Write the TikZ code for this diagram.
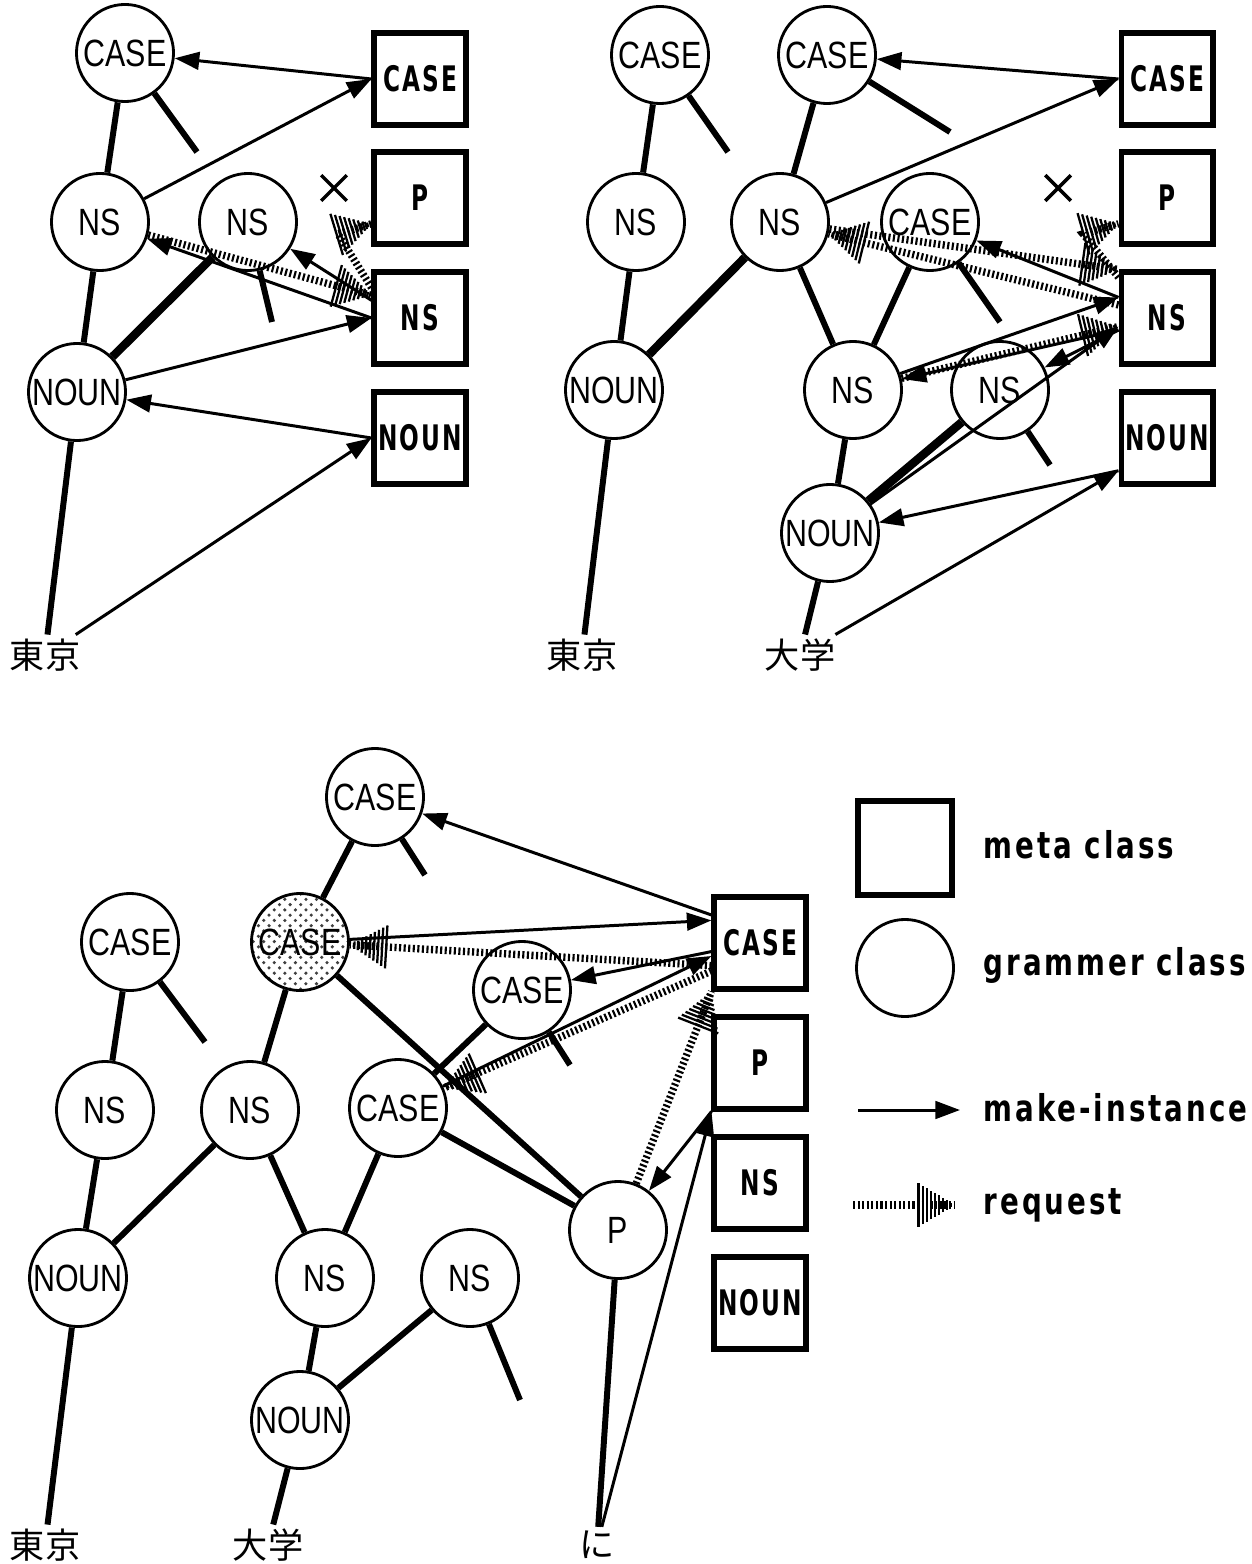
\documentclass[tikz,border=0pt]{standalone}
\usepackage{fontspec}
\newfontfamily\circfont[FakeStretch=0.8]{Liberation Sans}
\newfontfamily\boxfont[FakeStretch=0.66,LetterSpace=6,UprightFont={* Bold}]{DejaVu Sans}
\newfontfamily\lgfont[FakeStretch=0.75,LetterSpace=8,UprightFont={* Bold}]{DejaVu Sans}
\newfontfamily\jpfont{Noto Sans CJK JP}
\usetikzlibrary{arrows.meta, decorations.markings, patterns, shapes.misc}

% hatched head of a request
\newcommand\reqhead{%
  \foreach \d in {1,...,9}
    \draw[solid, line width=0.65pt] ({-\d*1.15pt},{-\d*0.68pt}) -- ({-\d*1.15pt},{\d*0.68pt});}

\tikzset{
  gcls/.style={circle, draw, line width=0.8pt, minimum size=0.97cm, inner sep=0pt,
    font=\circfont\fontsize{10.8}{11}\selectfont},
  mcls/.style={rectangle, draw, line width=1.7pt, minimum size=0.91cm, inner sep=0pt,
    font=\boxfont\fontsize{10}{10}\selectfont},
  link/.style={line width=1.7pt},
  heavy/.style={line width=2.4pt},
  mk/.style={line width=0.85pt, ->},
  request/.style={line width=2.1pt, dash pattern=on 0.6pt off 0.7pt,
    postaction={decorate, decoration={markings, mark=at position 1 with {\reqhead}}}},
  word/.style={font=\jpfont\fontsize{10}{10}\selectfont, inner sep=1pt},
  nope/.style={cross out, draw, line width=1pt, minimum size=0.22cm, inner sep=0pt},
  lgtext/.style={anchor=west, inner sep=0pt, font=\lgfont\fontsize{10.5}{11}\selectfont},
}

\begin{document}
\begin{tikzpicture}[x=0.01cm, y=-0.01cm, >={Triangle[length=7pt,width=5pt]}]
    \useasboundingbox (0,0) rectangle (1252,1564);

    % ---------- panel 1 : 東京
    \node[gcls] (c1CASE) at (125,53) {CASE};
    \node[gcls] (c1NSa) at (100,222) {NS};
    \node[gcls] (c1NSb) at (248,222) {NS};
    \node[gcls] (c1NOUN) at (77,392) {NOUN};
    \node[word] (w1tokyo) at (45,655) {東京};
    \coordinate (t1CASE) at (197,152);
    \coordinate (t1NS) at (272,322);

    \node[mcls] (b1CASE) at (420,79) {CASE};
    \node[mcls] (b1P) at (420,198) {P};
    \node[mcls] (b1NS) at (420,318) {NS};
    \node[mcls] (b1NOUN) at (420,438) {NOUN};

    \draw[link] (c1CASE) -- (c1NSa);
    \draw[link] (c1NSa) -- (c1NOUN);
    \draw[link] (c1NOUN) -- (w1tokyo);
    \draw[link] (c1CASE) -- (t1CASE);
    \draw[link] (c1NSb) -- (t1NS);
    \draw[heavy] (c1NOUN) -- (c1NSb);

    \draw[mk] (b1CASE.west) -- (c1CASE);
    \draw[mk] (c1NSa) -- (b1CASE.west);
    \draw[mk] (b1NS.west) -- (c1NSa);
    \draw[mk] (b1NS.160) -- (c1NSb);
    \draw[mk] (c1NOUN) -- (b1NS.west);
    \draw[mk] (b1NOUN.west) -- (c1NOUN);
    \draw[mk] (w1tokyo) -- (b1NOUN.west);

    % request refused by P
    \node[nope] (x1) at (334,188) {};
    \coordinate (r1bend) at (338,234);
    \draw[request] (c1NSa) -- (b1NS.155);
    \draw[request] (b1NS.148) -- (r1bend) -- (b1P.208);

    % ---------- panel 2 : 東京 大学
    \node[gcls] (c2CASEa) at (660,55) {CASE};
    \node[gcls] (c2NSa) at (636,222) {NS};
    \node[gcls] (c2NOUNa) at (614,390) {NOUN};
    \node[gcls] (c2CASEb) at (827,55) {CASE};
    \node[gcls] (c2NSb) at (780,222) {NS};
    \node[gcls] (c2CASEc) at (930,222) {CASE};
    \node[gcls] (c2NSc) at (853,390) {NS};
    \node[gcls] (c2NSd) at (1000,390) {NS};
    \node[gcls] (c2NOUNb) at (830,533) {NOUN};
    \node[word] (w2tokyo) at (582,655) {東京};
    \node[word] (w2daigaku) at (800,655) {大学};
    \coordinate (t2CASEa) at (728,152);
    \coordinate (t2CASEb) at (950,132);
    \coordinate (t2CASEc) at (1000,322);
    \coordinate (t2NSd) at (1050,465);

    \node[mcls] (b2CASE) at (1167,79) {CASE};
    \node[mcls] (b2P) at (1167,198) {P};
    \node[mcls] (b2NS) at (1167,318) {NS};
    \node[mcls] (b2NOUN) at (1167,438) {NOUN};

    \draw[link] (c2CASEa) -- (c2NSa);
    \draw[link] (c2NSa) -- (c2NOUNa);
    \draw[link] (c2NOUNa) -- (w2tokyo);
    \draw[link] (c2CASEa) -- (t2CASEa);
    \draw[link] (c2CASEb) -- (c2NSb);
    \draw[link] (c2CASEb) -- (t2CASEb);
    \draw[heavy] (c2NSb) -- (c2NOUNa);
    \draw[link] (c2NSb) -- (c2NSc);
    \draw[link] (c2CASEc) -- (c2NSc);
    \draw[link] (c2CASEc) -- (t2CASEc);
    \draw[link] (c2NSc) -- (c2NOUNb);
    \draw[heavy] (c2NSd) -- (c2NOUNb);
    \draw[link] (c2NSd) -- (t2NSd);
    \draw[link] (c2NOUNb) -- (w2daigaku);

    \draw[mk] (c2NSb) -- (b2CASE.west);
    \draw[mk] (b2CASE.west) -- (c2CASEb);
    \draw[mk] (b2NS.157) -- (c2CASEc);
    \draw[mk] (c2NSc) -- (b2NS.157);
    \draw[mk] (b2NS.194) -- (c2NSc);
    \draw[mk] (b2NS.194) -- (c2NSd);
    \draw[mk] (c2NOUNb) -- (b2NS.190);
    \draw[mk] (b2NOUN.214) -- (c2NOUNb);
    \draw[mk] (w2daigaku) -- (b2NOUN.214);

    \node[nope] (x2) at (1058,188) {};
    \coordinate (r2bend) at (1083,234);
    \draw[request] (c2NSb) -- (b2NS.north west);
    \draw[request] (b2NS.165) -- (c2NSb);
    \draw[request] (c2NSc) -- (b2NS.190);
    \draw[request] (b2NS.140) -- (r2bend) -- (b2P.208);

    % ---------- panel 3 : 東京 大学 に
    \node[gcls] (c3CASEt) at (375,797) {CASE};
    \node[gcls] (c3CASEl) at (130,942) {CASE};
    \node[gcls, pattern=crosshatch dots, pattern color=black!75] (c3CASEs) at (300,942) {CASE};
    \node[gcls] (c3CASEm) at (522,990) {CASE};
    \node[gcls] (c3CASEd) at (398,1108) {CASE};
    \node[gcls] (c3NSl) at (105,1110) {NS};
    \node[gcls] (c3NSc) at (250,1110) {NS};
    \node[gcls] (c3NOUNl) at (78,1278) {NOUN};
    \node[gcls] (c3NSm) at (325,1278) {NS};
    \node[gcls] (c3NSr) at (470,1278) {NS};
    \node[gcls] (c3NOUNm) at (300,1420) {NOUN};
    \node[gcls] (c3P) at (618,1230) {P};
    \node[word] (w3tokyo) at (45,1545) {東京};
    \node[word] (w3daigaku) at (268,1545) {大学};
    \node[word] (w3ni) at (597,1545) {に};
    \coordinate (t3CASEl) at (205,1042);
    \coordinate (t3CASEt) at (425,875);
    \coordinate (t3CASEm) at (570,1065);
    \coordinate (t3NSr) at (520,1400);

    \node[mcls] (b3CASE) at (760,943) {CASE};
    \node[mcls] (b3P) at (760,1063) {P};
    \node[mcls] (b3NS) at (760,1183) {NS};
    \node[mcls] (b3NOUN) at (760,1303) {NOUN};

    \draw[link] (c3CASEl) -- (c3NSl);
    \draw[link] (c3CASEl) -- (t3CASEl);
    \draw[link] (c3NSl) -- (c3NOUNl);
    \draw[link] (c3NOUNl) -- (w3tokyo);
    \draw[link] (c3CASEt) -- (c3CASEs);
    \draw[link] (c3CASEt) -- (t3CASEt);
    \draw[link] (c3CASEs) -- (c3NSc);
    \draw[link] (c3CASEs) -- (c3P);
    \draw[link] (c3CASEm) -- (c3CASEd);
    \draw[link] (c3CASEm) -- (t3CASEm);
    \draw[link] (c3CASEd) -- (c3P);
    \draw[link] (c3CASEd) -- (c3NSm);
    \draw[link] (c3NSc) -- (c3NOUNl);
    \draw[link] (c3NSc) -- (c3NSm);
    \draw[link] (c3NSm) -- (c3NOUNm);
    \draw[link] (c3NSr) -- (c3NOUNm);
    \draw[link] (c3NSr) -- (t3NSr);
    \draw[link] (c3NOUNm) -- (w3daigaku);
    \draw[link] (c3P) -- (w3ni);

    \draw[mk] (b3CASE.150) -- (c3CASEt);
    \draw[mk] (c3CASEs) -- (b3CASE.155);
    \draw[mk] (b3CASE.190) -- (c3CASEm);
    \draw[mk] (c3CASEd) -- (b3CASE.195);
    \draw[mk] (b3P.south west) -- (c3P);
    \draw[mk] (w3ni) -- (b3P.south west);

    \draw[request] (b3CASE.205) -- (c3CASEs);
    \draw[request] (b3CASE.210) -- (c3CASEd);
    \draw[request] (c3P) -- (b3CASE.south west);

    % ---------- legend
    \node[mcls, minimum size=0.94cm] (lgBox) at (905,848) {};
    \node[gcls] (lgCircle) at (905,968) {};
    \coordinate (lgMa) at (858,1110);
    \coordinate (lgMb) at (960,1110);
    \coordinate (lgRa) at (853,1205);
    \coordinate (lgRb) at (955,1205);
    \draw[mk] (lgMa) -- (lgMb);
    \draw[request] (lgRa) -- (lgRb);
    \node[lgtext] (lgBoxText) at (983,845) {meta class};
    \node[lgtext] (lgCircleText) at (983,965) {grammer class};
    \node[lgtext] (lgMkText) at (983,1108) {make-instance};
    \node[lgtext] (lgRqText) at (983,1205) {request};
\end{tikzpicture}
\end{document}
